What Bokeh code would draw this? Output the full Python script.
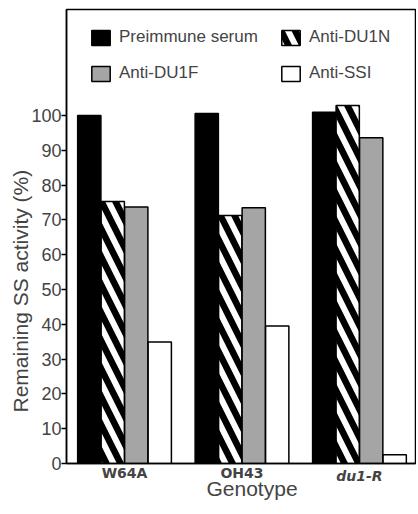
from bokeh.plotting import figure
from bokeh.models import (ColumnDataSource, FixedTicker, Legend, LegendItem, Range1d,
                          LinearAxis, Title)
from bokeh.transform import dodge
from bokeh.embed import file_html
from bokeh.resources import INLINE

# ---- data ----
genotypes = ["W64A", "OH43", "du1-R"]
preimmune = [100.0, 100.6, 101.0]
anti_du1n = [75.3, 71.3, 102.9]
anti_du1f = [73.7, 73.5, 93.6]
anti_ssi = [34.9, 39.5, 2.5]
y_ticks = [0, 10, 20, 30, 40, 50, 60, 70, 80, 90, 100]

FONT = "Liberation Sans"
TICKFONT = "DejaVu Sans"

src = ColumnDataSource(dict(
    x=[1, 2, 3],
    pre=preimmune, du1n=anti_du1n, du1f=anti_du1f, ssi=anti_ssi,
))

p = figure(width=416, height=506, output_backend="svg", toolbar_location=None,
           x_range=Range1d(0.506, 3.477), y_range=Range1d(0, 130.5),
           min_border_left=66, min_border_right=1, min_border_top=9, min_border_bottom=43)

w = 0.198
r1 = p.vbar(x=dodge("x", -0.3), top="pre", width=w, source=src,
            fill_color="black", line_color="black", line_width=1.5)
r2 = p.vbar(x=dodge("x", -0.1), top="du1n", width=w, source=src,
            fill_color="black", line_color="black", line_width=1.5,
            hatch_pattern="\\", hatch_color="white", hatch_weight=6, hatch_scale=28)
r3 = p.vbar(x=dodge("x", 0.1), top="du1f", width=w, source=src,
            fill_color="#a5a5a5", line_color="black", line_width=1.5)
r4 = p.vbar(x=dodge("x", 0.3), top="ssi", width=w, source=src,
            fill_color="white", line_color="black", line_width=1.5)

legend = Legend(items=[
    LegendItem(label="Preimmune serum", renderers=[r1]),
    LegendItem(label="Anti-DU1F", renderers=[r3]),
    LegendItem(label="Anti-DU1N", renderers=[r2]),
    LegendItem(label="Anti-SSI", renderers=[r4]),
], location=(23, 380), nrows=2, margin=0, padding=0, spacing=16,
    glyph_width=23, glyph_height=19, label_standoff=7, label_height=20, label_width=144,
    label_text_font=FONT, label_text_font_size="17px",
    border_line_alpha=0, background_fill_alpha=0)
p.add_layout(legend)

# frame
p.outline_line_color = "black"
p.outline_line_width = 1.5
p.xgrid.grid_line_color = None
p.ygrid.grid_line_color = None

# y axis
yax = p.yaxis[0]
yax.ticker = FixedTicker(ticks=y_ticks)
yax.major_label_text_font = FONT
yax.major_label_text_font_size = "18px"
yax.major_label_standoff = 0
yax.major_tick_out = 5
yax.major_tick_in = 0
yax.minor_tick_line_color = None
yax.axis_line_width = 1.5
yax.major_tick_line_width = 1.5
p.add_layout(Title(text="Remaining SS activity (%)", align="left", offset=51,
                   standoff=-7, text_font=FONT, text_font_size="21px",
                   text_font_style="normal"), "left")

# x axis (upright genotype names)
xax = p.xaxis[0]
xax.ticker = FixedTicker(ticks=[1, 2])
xax.major_label_overrides = {1: genotypes[0], 2: genotypes[1]}
xax.major_label_text_font = TICKFONT
xax.major_label_text_font_size = "14px"
xax.major_label_text_font_style = "bold"
xax.major_label_standoff = 1
xax.major_tick_out = 0
xax.major_tick_in = 0
xax.minor_tick_line_color = None
xax.axis_line_width = 1.5

# second x axis for the italic name, pulled up onto the same row
xax2 = LinearAxis(ticker=FixedTicker(ticks=[3]),
                  major_label_overrides={3: genotypes[2]},
                  major_label_text_font=TICKFONT, major_label_text_font_size="14px",
                  major_label_text_font_style="bold italic", major_label_standoff=-16,
                  major_tick_out=0, major_tick_in=0, minor_tick_line_color=None,
                  axis_line_color=None)
p.add_layout(xax2, "below")

p.add_layout(Title(text="Genotype", align="left", offset=140, standoff=-20,
                   vertical_align="top",
                   text_font=FONT, text_font_size="21px",
                   text_font_style="normal"), "below")

open("out.html", "w").write(file_html(p, INLINE))
